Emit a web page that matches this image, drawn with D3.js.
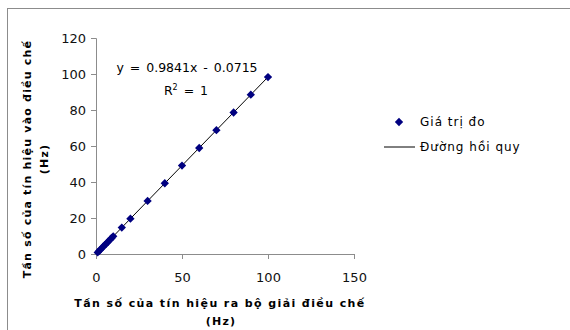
<!DOCTYPE html>
<html>
<head>
<meta charset="utf-8">
<script src="https://cdn.jsdelivr.net/npm/d3@7"></script>
<style>
  body { margin: 0; background: #fff; }
  text { font-family: "DejaVu Sans", sans-serif; }
</style>
</head>
<body>
<div id="chart"></div>
<script>
// measured points (x = output freq, y = input freq)
var xVals = [1, 2, 3, 4, 5, 6, 7, 8, 9, 10, 15, 20, 30, 40, 50, 60, 70, 80, 90, 100];
var yVals = [0.9, 1.9, 2.9, 3.9, 4.9, 5.8, 6.8, 7.8, 8.8, 9.8, 14.7, 19.6, 29.5, 39.3, 49.1, 58.9, 68.8, 78.6, 88.5, 98.3];
var xTicks = [0, 50, 100, 150];
var yTicks = [0, 20, 40, 60, 80, 100, 120];
var slope = 0.9841;
var intercept = -0.0715;
var legendLabels = ["Giá trị đo", "Đường hồi quy"];

var width = 570, height = 330;

var svg = d3.select("#chart")
	.append("svg")
	.attr("width", width)
	.attr("height", height);

// outer chart frame
svg.append("rect")
	.attr("x", 7.5).attr("y", 8.5)
	.attr("width", 600).attr("height", 400)
	.attr("fill", "none")
	.attr("stroke", "#8c8c8c");

var x = d3.scaleLinear().domain([0, 150]).range([96, 354]);
var y = d3.scaleLinear().domain([0, 120]).range([254, 38]);

// axes
var xAxis = svg.append("g")
	.attr("transform", "translate(0,254)")
	.call(d3.axisBottom(x).tickValues(xTicks).tickSize(5).tickPadding(14));
var yAxis = svg.append("g")
	.attr("transform", "translate(96,0)")
	.call(d3.axisLeft(y).tickValues(yTicks).tickSize(5).tickPadding(5));

[xAxis, yAxis].forEach(function(a) {
	a.select(".domain").attr("stroke", "#8c8c8c");
	a.selectAll(".tick line").attr("stroke", "#8c8c8c");
	a.selectAll(".tick text")
		.attr("fill", "#111")
		.style("font-size", "13px")
		.style("font-family", "DejaVu Sans, sans-serif");
});
yAxis.selectAll(".tick text").attr("dy", "0.35em");

// regression line
var x0 = d3.min(xVals), x1 = d3.max(xVals);
svg.append("line")
	.attr("x1", x(x0)).attr("y1", y(slope * x0 + intercept))
	.attr("x2", x(x1)).attr("y2", y(slope * x1 + intercept))
	.attr("stroke", "#000")
	.attr("stroke-width", 1);

// diamonds
var diamond = d3.symbol().type(d3.symbolDiamond2).size(44);
svg.selectAll(".pt")
	.data(xVals)
	.enter().append("path")
	.attr("class", "pt")
	.attr("d", diamond)
	.attr("transform", function(d, i) { return "translate(" + x(d) + "," + y(yVals[i]) + ")"; })
	.attr("fill", "#000080");

// equation
svg.append("text")
	.attr("x", 187).attr("y", 72)
	.attr("text-anchor", "middle")
	.style("font-size", "12.5px")
	.style("word-spacing", "2px")
	.text("y = " + slope + "x - " + Math.abs(intercept));
var r2 = svg.append("text")
	.attr("x", 186).attr("y", 95)
	.attr("text-anchor", "middle")
	.style("font-size", "12.5px")
	.style("word-spacing", "2px");
r2.append("tspan").text("R");
r2.append("tspan").attr("dy", -5).style("font-size", "8px").text("2");
r2.append("tspan").attr("dy", 5).text(" = 1");

// axis titles
svg.append("text")
	.attr("x", 220).attr("y", 307)
	.attr("text-anchor", "middle")
	.attr("font-weight", 700)
	.style("font-size", "11px")
	.style("letter-spacing", "1.4px")
	.text("Tần số của tín hiệu ra bộ giải điều chế");
svg.append("text")
	.attr("x", 221).attr("y", 325)
	.attr("text-anchor", "middle")
	.attr("font-weight", 700)
	.style("font-size", "11px")
	.style("letter-spacing", "1.2px")
	.text("(Hz)");

var yt = svg.append("g").attr("transform", "translate(31,159) rotate(-90)");
yt.append("text")
	.attr("text-anchor", "middle")
	.attr("font-weight", 700)
	.style("font-size", "11px")
	.style("letter-spacing", "1.2px")
	.text("Tần số của tín hiệu vào điều chế");
yt.append("text")
	.attr("y", 17)
	.attr("text-anchor", "middle")
	.attr("font-weight", 700)
	.style("font-size", "11px")
	.style("letter-spacing", "1.2px")
	.text("(Hz)");

// legend
var legend = svg.append("g");
legend.append("path")
	.attr("d", diamond)
	.attr("transform", "translate(399,122)")
	.attr("fill", "#000080");
legend.append("line")
	.attr("x1", 384).attr("x2", 415)
	.attr("y1", 147).attr("y2", 147)
	.attr("stroke", "#000");
legend.selectAll(".lg")
	.data(legendLabels)
	.enter().append("text")
	.attr("class", "lg")
	.attr("x", 420)
	.attr("y", function(d, i) { return 126 + i * 25; })
	.style("font-size", "12px")
	.style("letter-spacing", "1px")
	.text(function(d) { return d; });
</script>
</body>
</html>
